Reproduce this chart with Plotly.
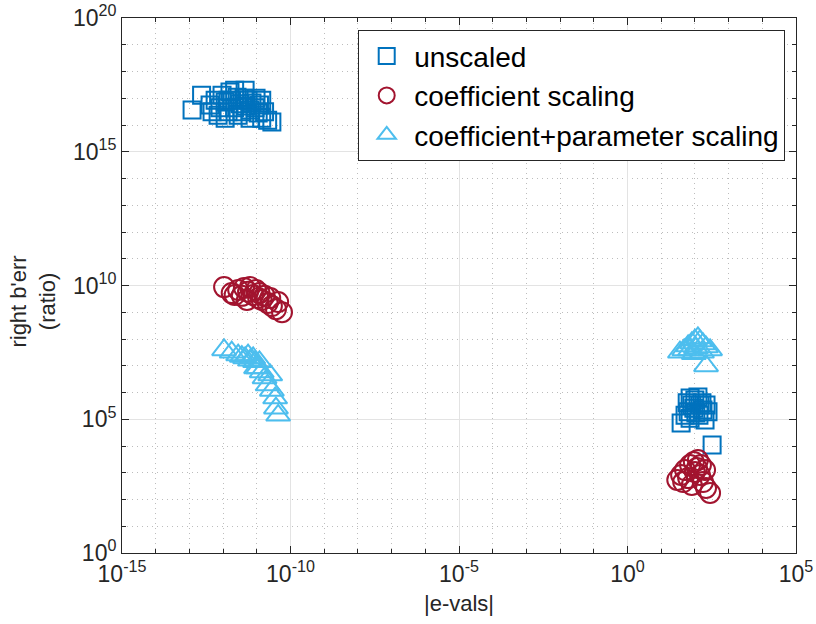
import plotly.graph_objects as go

# |eigenvalue| and right backward error (ratio) per scaling strategy
unscaled_x = [1.2e-13, 2.3e-13, 4.1e-13, 5.8e-13, 8.1e-13, 9.3e-13, 1.15e-12, 1.4e-12,
              1.6e-12, 1.8e-12, 2.2e-12, 2.6e-12, 3.2e-12, 3.6e-12, 4.2e-12, 4.8e-12,
              5.5e-12, 6.3e-12, 7.2e-12, 8.9e-12, 1.1e-11, 1.2e-11, 1.4e-11, 1.7e-11,
              2.1e-11, 2.8e-11, 2.2e-12, 1.4e-12, 2.8e-12, 6.3e-12, 4.5e-12, 9.5e-12,
              7.1e-13, 1.15e-12, 4.7e-13, 1.4e-11,
              39, 63, 81, 100, 123, 141, 174, 200, 72, 51, 107, 245, 162, 93, 59, 132,
              324, 72, 214]
unscaled_y = [3.6e16, 1.3e17, 5.6e16, 8.5e16, 4.4e16, 1.3e17, 7.2e16, 3.1e16,
              1.7e17, 8.5e16, 4.4e16, 1.1e17, 6.2e16, 3.1e16, 1.0e17, 5.1e16,
              8.5e16, 3.6e16, 6.6e16, 4.4e16, 2.8e16, 5.6e16, 1.8e16, 3.1e16,
              1.5e16, 1.3e16, 2.0e17, 8.5e16, 2.3e16, 1.8e16, 2.0e17, 1.0e17,
              2.3e16, 1.8e16, 3.1e16, 8.5e16,
              7.2e4, 1.9e5, 3.4e5, 5.2e5, 6.8e5, 3.4e5, 2.2e5, 9.3e4, 1.1e5, 1.4e5,
              1.7e5, 1.9e5, 4.1e5, 2.6e5, 4.1e5, 1.4e5, 1.1e4, 6.2e5, 3.4e5]

coef_x = [1.07e-12, 1.8e-12, 2.8e-12, 4.2e-12, 5.5e-12, 6.3e-12, 7.8e-12, 9.5e-12,
          1.1e-11, 1.2e-11, 1.4e-11, 1.7e-11, 2.1e-11, 2.8e-11, 3.7e-11, 5.6e-11,
          3.6e-12, 5.1e-12, 2.5e-11, 4.3e-11, 2.2e-12,
          30, 39, 51, 72, 93, 123, 151, 63, 100, 141, 174, 214, 282, 81, 115, 200, 45]
coef_y = [8.7e9, 5.2e9, 6.8e9, 8.1e9, 5.8e9, 8.7e9, 4.4e9, 6.8e9,
          3.4e9, 5.2e9, 2.9e9, 4.1e9, 2.2e9, 1.7e9, 1.3e9, 1.0e9,
          4.1e9, 2.9e9, 3.4e9, 2.4e9, 4.4e9,
          540, 830, 1260, 1950, 2500, 3000, 1950, 630, 1070, 830, 450, 270, 175,
          350, 1500, 1260, 450]

coefpar_x = [1.07e-12, 1.8e-12, 2.8e-12, 3.6e-12, 4.5e-12, 5.5e-12, 6.3e-12, 7.8e-12,
             8.9e-12, 1.1e-11, 1.2e-11, 1.4e-11, 1.7e-11, 2.1e-11, 2.5e-11, 2.8e-11,
             3.5e-11, 3.7e-11, 4.3e-11, 9.5e-12,
             36, 48, 63, 81, 100, 123, 141, 174, 214, 282, 72, 107, 214, 93, 162]
coefpar_y = [3.9e7, 3.2e7, 2.5e7, 2.2e7, 1.95e7, 2.5e7, 1.6e7, 1.95e7,
             1.4e7, 8.3e6, 1.4e7, 5.9e6, 3.5e6, 1.9e6, 4.5e6, 1.2e6,
             6.2e5, 2.6e5, 1.4e5, 8.3e6,
             3.2e7, 3.9e7, 5.5e7, 7.1e7, 9.1e7, 1.1e8, 8.5e7, 6.5e7, 5.0e7, 3.9e7,
             3.9e7, 4.6e7, 9.8e6, 2.8e7, 3.2e7]

x_ticks = [1e-15, 1e-10, 1e-5, 1e0, 1e5]
x_tick_text = ["10<sup>-15</sup>", "10<sup>-10</sup>", "10<sup>-5</sup>",
               "10<sup>0</sup>", "10<sup>5</sup>"]
y_ticks = [1e0, 1e5, 1e10, 1e15, 1e20]
y_tick_text = ["10<sup>0</sup>", "10<sup>5</sup>", "10<sup>10</sup>",
               "10<sup>15</sup>", "10<sup>20</sup>"]

FONT = "Liberation Sans, Arial, Helvetica, sans-serif"
INK = "#262626"

fig = go.Figure()
fig.add_trace(go.Scatter(
    x=unscaled_x, y=unscaled_y, mode="markers", name="unscaled",
    marker=dict(symbol="square-open", size=17, color="#0072BD",
                line=dict(width=2, color="#0072BD"))))
fig.add_trace(go.Scatter(
    x=coef_x, y=coef_y, mode="markers", name="coefficient scaling",
    marker=dict(symbol="circle-open", size=20, color="#A2142F",
                line=dict(width=2, color="#A2142F"))))
fig.add_trace(go.Scatter(
    x=coefpar_x, y=coefpar_y, mode="markers", name="coefficient+parameter scaling",
    marker=dict(symbol="triangle-up-open", size=21, color="#4DBEEE",
                line=dict(width=2, color="#4DBEEE"))))

minor_x = [10.0 ** k for k in range(-15, 6) if k % 5 != 0]
minor_y = [10.0 ** k for k in range(0, 21) if k % 5 != 0]

minor_style = dict(tickmode="array", ticks="inside", ticklen=4, tickcolor=INK,
                   showgrid=True, gridcolor="#bdbdbd", griddash="1px,4px", gridwidth=1)

axis_common = dict(
    type="log", automargin=False, showline=True, linecolor=INK, linewidth=1,
    mirror="ticks", ticks="inside", ticklen=7, tickcolor=INK, tickwidth=1,
    showgrid=True, gridcolor="#e3e3e3", gridwidth=1, zeroline=False,
    tickfont=dict(family=FONT, size=23, color=INK),
)

fig.update_xaxes(
    range=[-15, 5], tickmode="array", tickvals=x_ticks, ticktext=x_tick_text,
    minor=dict(tickvals=minor_x, **minor_style),
    title=dict(text="|e-vals|", font=dict(family=FONT, size=22, color=INK), standoff=10),
    **axis_common)
fig.update_yaxes(
    range=[0, 20], tickmode="array", tickvals=y_ticks, ticktext=y_tick_text,
    minor=dict(tickvals=minor_y, **minor_style),
    **axis_common)

fig.update_layout(
    width=816, height=624,
    margin=dict(l=122, r=20, t=18, b=71),
    paper_bgcolor="white", plot_bgcolor="white",
    font=dict(family=FONT, color=INK),
    legend=dict(x=0.984, y=0.977, xanchor="right", yanchor="top",
                bgcolor="white", bordercolor=INK, borderwidth=1,
                font=dict(family=FONT, size=28, color="black"),
                itemwidth=45, tracegroupgap=0),
    showlegend=True,
    annotations=[dict(
        text="right b'err<br>(ratio)", textangle=-90, showarrow=False,
        xref="paper", yref="paper", x=-0.132, y=0.47,
        xanchor="center", yanchor="middle",
        font=dict(family=FONT, size=22, color=INK))],
)

fig.write_html("out.html")
